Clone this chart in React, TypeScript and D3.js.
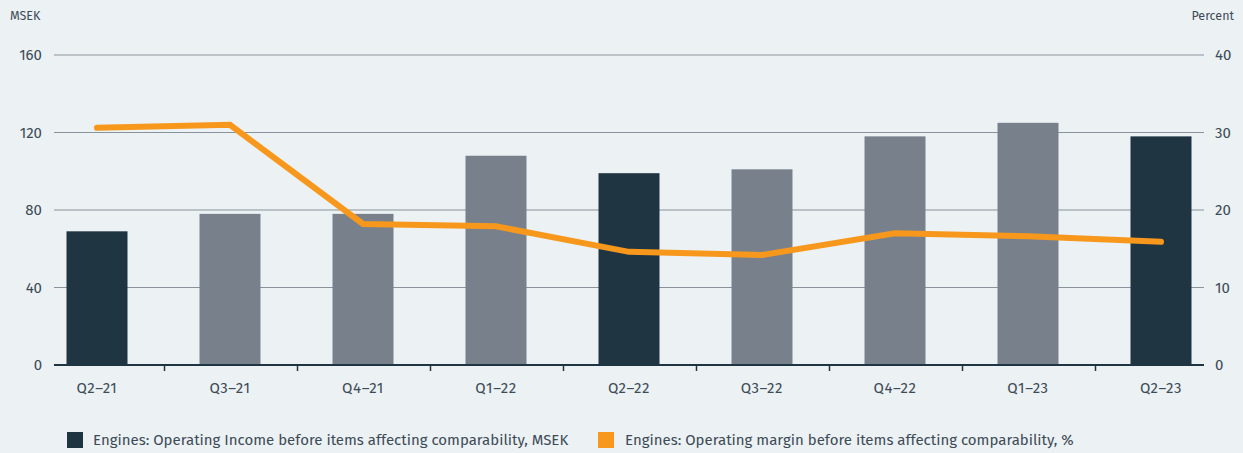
import React from "react";
import * as d3 from "d3";

const categories = ["Q2–21", "Q3–21", "Q4–21", "Q1–22", "Q2–22", "Q3–22", "Q4–22", "Q1–23", "Q2–23"];
const operatingIncome = [69, 78, 78, 108, 99, 101, 118, 125, 118];
const operatingMargin = [30.6, 31.0, 18.2, 17.9, 14.6, 14.2, 17.0, 16.6, 15.9];
const leftTicks = [0, 40, 80, 120, 160];
const rightTicks = [0, 10, 20, 30, 40];
const legendLabels = [
  "Engines: Operating Income before items affecting comparability, MSEK",
  "Engines: Operating margin before items affecting comparability, %",
];

const W = 1243;
const H = 453;
const BG = "#ecf1f4";
const TEXT = "#3d4b56";
const DARK = "#1f3542";
const GREY = "#78818b";
const ORANGE = "#f7981d";
const FONT = "'Fira Sans', 'Open Sans', 'Noto Sans', sans-serif";

export default function App() {
  const gridLeft = 54;
  const gridRight = 1204;
  const top = 55;
  const bottom = 365;

  const x = d3
    .scaleBand<string>()
    .domain(categories)
    .range([30.5, 1227.5])
    .paddingInner(72 / 133)
    .paddingOuter(36 / 133);
  const yL = d3.scaleLinear().domain([0, 160]).range([bottom, top]);
  const yR = d3.scaleLinear().domain([0, 40]).range([bottom, top]);

  const gap = x.step() - x.bandwidth();
  const cx = (c: string) => (x(c) ?? 0) + x.bandwidth() / 2;

  const line = d3
    .line<number>()
    .x((_, i) => cx(categories[i]))
    .y((d) => yR(d));

  // Q2 quarters are highlighted in the dark colour
  const barColor = (c: string) => (c.startsWith("Q2") ? DARK : GREY);

  return (
    <svg width={W} height={H} style={{ display: "block", position: "absolute", left: 0, top: 0 }} fontFamily={FONT}>
      <rect width={W} height={H} fill={BG} />
      <text x={10} y={20} fontSize={12.5} fill={TEXT}>MSEK</text>
      <text x={1234} y={20} fontSize={12.5} fill={TEXT} textAnchor="end">Percent</text>

      {leftTicks.filter((t) => t > 0).map((t) => (
        <line key={t} x1={gridLeft} x2={gridRight} y1={yL(t)} y2={yL(t)} stroke="#8a939b" strokeWidth={1} />
      ))}
      {leftTicks.map((t) => (
        <text key={t} x={42} y={yL(t)} dy="0.35em" fontSize={15} fill={TEXT} textAnchor="end">{t}</text>
      ))}
      {rightTicks.map((t) => (
        <text key={t} x={1215} y={yR(t)} dy="0.35em" fontSize={15} fill={TEXT}>{t}</text>
      ))}

      {categories.map((c, i) => (
        <rect
          key={c}
          x={x(c)}
          y={yL(operatingIncome[i])}
          width={x.bandwidth()}
          height={bottom - yL(operatingIncome[i])}
          fill={barColor(c)}
        />
      ))}

      <line x1={gridLeft} x2={gridRight} y1={bottom} y2={bottom} stroke={DARK} strokeWidth={2} />
      {categories.slice(1).map((c) => {
        const tx = Math.round((x(c) ?? 0) - gap / 2) + 0.5;
        return <line key={c} x1={tx} x2={tx} y1={bottom} y2={bottom + 6} stroke={DARK} strokeWidth={1.5} />;
      })}
      {categories.map((c) => (
        <text key={c} x={cx(c)} y={393} fontSize={15} fill={TEXT} textAnchor="middle" letterSpacing={0.6}>{c}</text>
      ))}

      <path
        d={line(operatingMargin) ?? ""}
        fill="none"
        stroke={ORANGE}
        strokeWidth={6}
        strokeLinecap="round"
        strokeLinejoin="miter"
      />

      <rect x={67} y={432} width={16} height={16} fill={DARK} />
      <text x={93} y={440} dy="0.35em" fontSize={15} fill={TEXT}>{legendLabels[0]}</text>
      <rect x={598} y={432} width={16} height={16} fill={ORANGE} />
      <text x={625} y={440} dy="0.35em" fontSize={15} fill={TEXT}>{legendLabels[1]}</text>
    </svg>
  );
}
